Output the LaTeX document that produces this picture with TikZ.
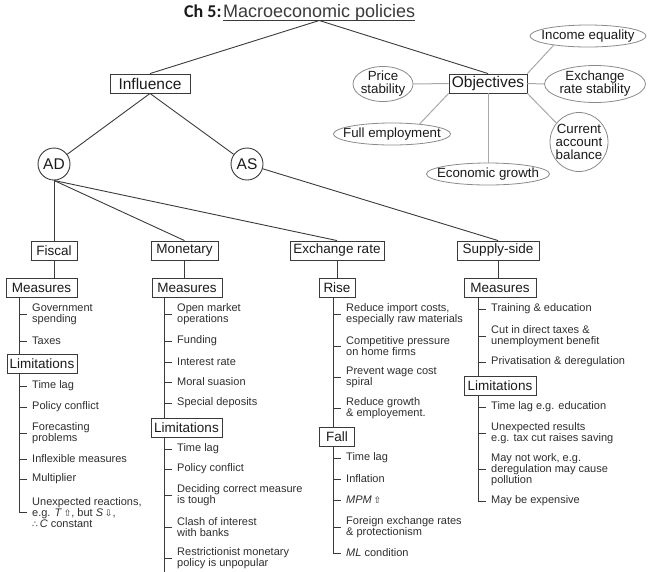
\documentclass[tikz,border=0pt]{standalone}
\usepackage{fontspec}
\setmainfont{Liberation Sans}
\newfontfamily\carl{Carlito}
\newfontfamily\dejavu{DejaVu Sans}
\usetikzlibrary{shapes.geometric}
\definecolor{ln}{HTML}{3A3A3A}
\definecolor{lg}{HTML}{A8A8A8}
\definecolor{eg}{HTML}{8A8A8A}
\definecolor{tx}{HTML}{1A1A1A}
\definecolor{lt}{HTML}{2E2E2E}
\newcommand\lfitem[4]{%
  \node[leaf] (#1) at (#2+13,#3) {#4};
  \draw[con] (#1.west -| T#2) -- ([xshift=-5pt]#1.west);}
\begin{document}
\begin{tikzpicture}[x=1pt,y=-1pt,
  box/.style={draw=ln, line width=0.9pt, minimum height=19pt, inner sep=0pt, text=tx,
    font=\fontsize{13.5}{14}\selectfont},
  bigbox/.style={box, font=\fontsize{15.5}{16}\selectfont},
  ell/.style={ellipse, draw=eg, line width=0.8pt, inner sep=0pt},
  etxt/.style={inner sep=0pt, align=center, text=tx, font=\fontsize{13.3}{13}\selectfont},
  circ/.style={circle, draw=ln, line width=0.9pt, minimum size=32pt, inner sep=0pt, text=tx,
    font=\fontsize{15.5}{16}\selectfont},
  leaf/.style={anchor=west, inner sep=0pt, align=left, text=lt, font=\fontsize{11}{11}\selectfont},
  con/.style={draw=ln, line width=0.9pt},
  ocon/.style={draw=lg, line width=1pt},
]
\useasboundingbox (0,0) rectangle (650,571);
% trunk coordinates
\coordinate (T19) at (19,0);
\coordinate (T164) at (164,0);
\coordinate (T333) at (333,0);
\coordinate (T478) at (478,0);

% title
\node[anchor=base west, inner sep=0pt, text=tx, font=\carl\bfseries\fontsize{18}{18}\selectfont] (ch) at (184,17) {Ch 5:};
\node[anchor=base west, inner sep=0pt, text=ln, font=\fontsize{18}{18}\selectfont] (ttl) at (223,17) {Macroeconomic policies};
\draw[con, line width=1pt] ([yshift=-3.5pt]ttl.base west) -- ([yshift=-3.5pt]ttl.base east);
\coordinate (ul) at ([yshift=-3.5pt]ttl.base);

% top boxes
\node[bigbox, minimum width=80pt] (infl) at (150,83.5) {Influence};
\node[bigbox, minimum width=78pt] (obj) at (488,83.5) {Objectives};
\draw[con] (ul) -- (infl.north);
\draw[con] (ul) -- (obj.north);

% objectives
\node[ell, minimum width=60pt, minimum height=35pt] (pri) at (383,84) {};
\node[etxt] (prit) at (pri) {Price\\stability};
\node[ell, minimum width=116pt, minimum height=22pt] (inc) at (588,36) {};
\node[etxt] (inct) at (inc) {Income equality};
\node[ell, minimum width=101pt, minimum height=37pt] (exs) at (595,84) {};
\node[etxt] (exst) at (exs) {Exchange\\rate stability};
\node[ell, minimum width=58pt, minimum height=59pt] (cab) at (579,142) {};
\node[etxt] (cabt) at (cab) {Current\\account\\balance};
\node[ell, minimum width=117pt, minimum height=22pt] (ful) at (392,134) {};
\node[etxt] (fult) at (ful) {Full employment};
\node[ell, minimum width=123pt, minimum height=22pt] (eco) at (488,174) {};
\node[etxt] (ecot) at (eco) {Economic growth};
\draw[ocon] (pri.east) -- (obj.west);
\draw[ocon] (obj.north east) -- (inc.195);
\draw[ocon] (obj.east) -- (exs.west);
\draw[ocon] (obj.south east) -- (cab.140);
\draw[ocon] (obj.south) -- (eco.north);
\draw[ocon] (obj.south west) -- (ful.20);

% AD / AS
\node[circ] (ad) at (54,164) {AD};
\node[circ] (as) at (247,164) {AS};
\draw[con] (infl.south) -- (ad);
\draw[con] (infl.south) -- (as);

% policy boxes
\node[box, minimum width=46pt] (fis) at (54,250.5) {Fiscal};
\node[box, minimum width=67pt] (mon) at (184.5,250.5) {Monetary};
\node[box, minimum width=94pt] (exr) at (337,250.5) {Exchange rate};
\node[box, minimum width=82pt] (sup) at (498,250.5) {Supply-side};
\draw[con] (ad.south) -- (fis.north);
\draw[con] (ad.south) -- (mon.north);
\draw[con] (ad.south) -- (exr.north);
\draw[con] (as) -- (sup.north);

\node[box, minimum width=71pt] (mf) at (41.5,287.5) {Measures};
\node[box, minimum width=70pt] (lf) at (42,364) {Limitations};
\node[box, minimum width=70pt] (mm) at (187,287.5) {Measures};
\node[box, minimum width=71pt] (lm) at (186.5,428) {Limitations};
\node[box, minimum width=36pt] (rise) at (337,287.5) {Rise};
\node[box, minimum width=35pt] (fall) at (337,437) {Fall};
\node[box, minimum width=72pt] (ms) at (500,287.5) {Measures};
\node[box, minimum width=72pt] (ls) at (500,386) {Limitations};
\draw[con] (fis.south) -- (fis.south |- mf.north);
\draw[con] (mon.south) -- (mon.south |- mm.north);
\draw[con] (exr.south) -- (rise.north);
\draw[con] (sup.south) -- (sup.south |- ms.north);

% Fiscal leaves
\lfitem{f1}{19}{314.5}{Government\\spending}
\lfitem{f2}{19}{341}{Taxes}
\lfitem{f3}{19}{386}{Time lag}
\lfitem{f4}{19}{407}{Policy conflict}
\lfitem{f5}{19}{433}{Forecasting\\problems}
\lfitem{f6}{19}{459}{Inflexible measures}
\lfitem{f7}{19}{479}{Multiplier}
\lfitem{f8}{19}{512.5}{Unexpected reactions,\\e.g. \textit{T}\,{\dejavu\fontsize{9}{9}\selectfont ⇧}, but \textit{S}\,{\dejavu\fontsize{9}{9}\selectfont ⇩},\\{\dejavu\fontsize{9}{9}\selectfont ∴}\,\textit{C} constant}
\draw[con] (mf.south -| T19) -- (lf.north -| T19);
\draw[con] (lf.south -| T19) |- ([xshift=-5pt]f8.west);

% Monetary leaves
\lfitem{m1}{164}{314.5}{Open market\\operations}
\lfitem{m2}{164}{341}{Funding}
\lfitem{m3}{164}{362}{Interest rate}
\lfitem{m4}{164}{382}{Moral suasion}
\lfitem{m5}{164}{403}{Special deposits}
\lfitem{m6}{164}{449}{Time lag}
\lfitem{m7}{164}{469}{Policy conflict}
\lfitem{m8}{164}{495.5}{Deciding correct measure\\is tough}
\lfitem{m9}{164}{527}{Clash of interest\\with banks}
\lfitem{m10}{164}{558.5}{Restrictionist monetary\\policy is unpopular}
\coordinate (mbot) at (164,572);
\draw[con] (mm.south -| T164) -- (lm.north -| T164);
\draw[con] (lm.south -| T164) -- (mbot);

% Exchange rate leaves
\lfitem{e1}{333}{314.5}{Reduce import costs,\\especially raw materials}
\lfitem{e2}{333}{346}{Competitive pressure\\on home firms}
\lfitem{e3}{333}{377.5}{Prevent wage cost\\spiral}
\lfitem{e4}{333}{408}{Reduce growth\\\& employement.}
\lfitem{e5}{333}{458}{Time lag}
\lfitem{e6}{333}{479}{Inflation}
\lfitem{e7}{333}{500}{\textit{MPM}\,{\dejavu\fontsize{9}{9}\selectfont ⇧}}
\lfitem{e8}{333}{527}{Foreign exchange rates\\\& protectionism}
\lfitem{e9}{333}{553}{\textit{ML} condition}
\draw[con] (rise.south -| T333) -- (fall.north -| T333);
\draw[con] (fall.south -| T333) |- ([xshift=-5pt]e9.west);

% Supply-side leaves
\lfitem{s1}{478}{309}{Training \& education}
\lfitem{s2}{478}{336}{Cut in direct taxes \&\\unemployment benefit}
\lfitem{s3}{478}{362}{Privatisation \& deregulation}
\lfitem{s4}{478}{407}{Time lag e.g. education}
\lfitem{s5}{478}{433.5}{Unexpected results\\e.g. tax cut raises saving}
\lfitem{s6}{478}{469.5}{May not work, e.g.\\deregulation may cause\\pollution}
\lfitem{s7}{478}{501}{May be expensive}
\draw[con] (ms.south -| T478) -- (ls.north -| T478);
\draw[con] (ls.south -| T478) |- ([xshift=-5pt]s7.west);
\end{tikzpicture}
\end{document}
